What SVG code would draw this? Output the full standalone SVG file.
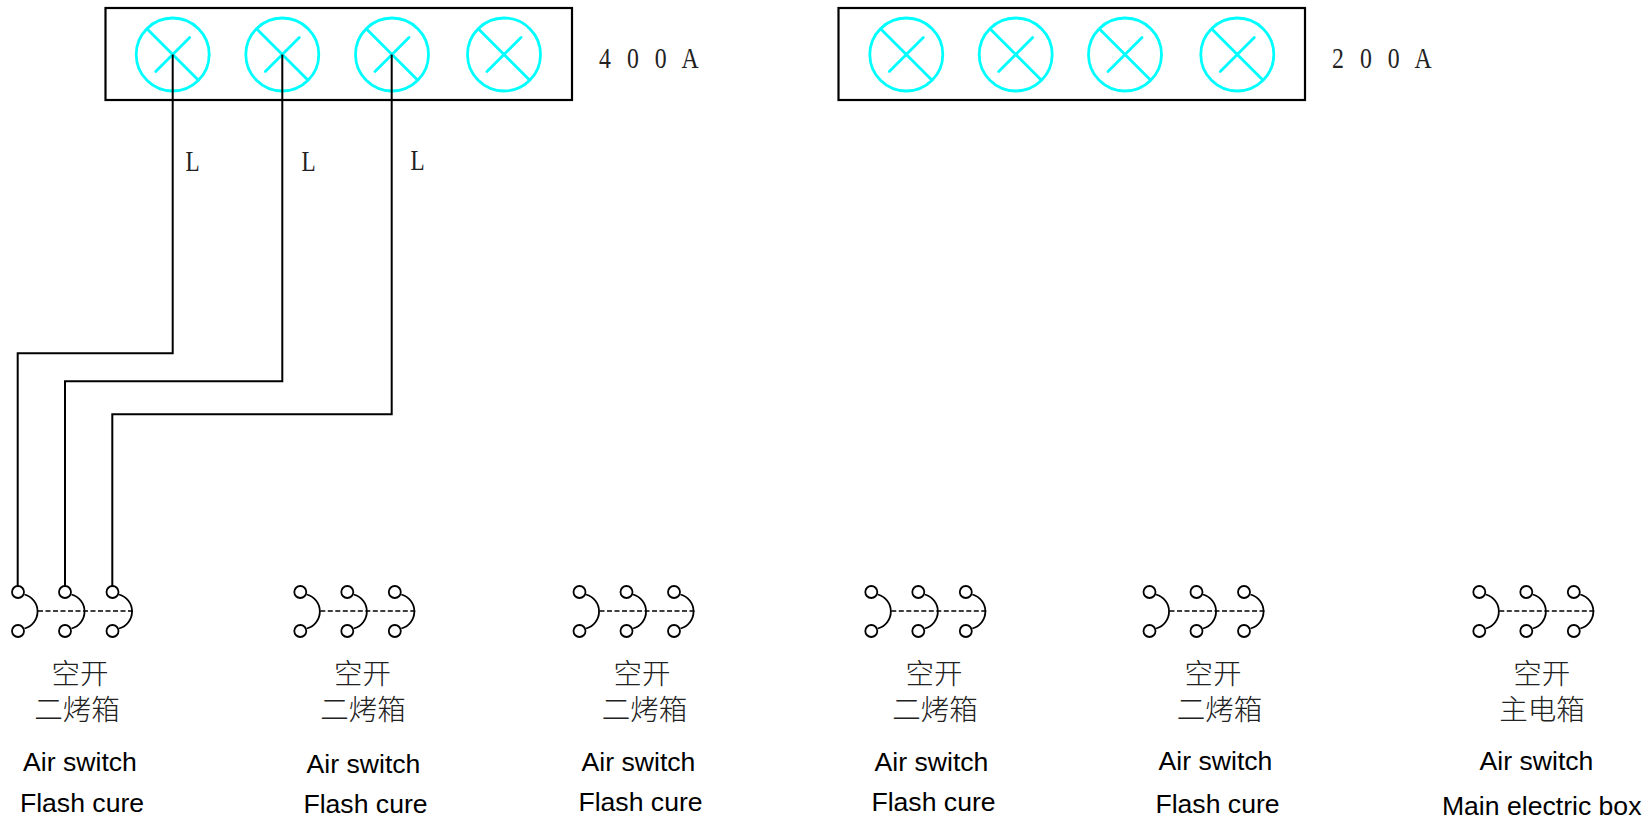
<svg xmlns="http://www.w3.org/2000/svg" xmlns:xlink="http://www.w3.org/1999/xlink" width="1652" height="819" viewBox="0 0 1652 819">
<style>
.box{fill:none;stroke:#000;stroke-width:2.200}
.lamp circle,.lamp path{fill:none;stroke:#00ffff;stroke-width:2.800;stroke-linecap:round}
.wire{fill:none;stroke:#000;stroke-width:2}
.pole circle,.pole path{fill:#fff;stroke:#000;stroke-width:1.800}
.pole path{fill:none}
.dash{fill:none;stroke:#000;stroke-width:1.500;stroke-dasharray:5 2.500}
.serif{font-family:"Liberation Serif",serif;font-size:29px;fill:#222}
.cjk{font-family:"Liberation Serif","Noto Sans CJK SC",sans-serif;font-size:28.500px;font-weight:300;fill:#222;text-anchor:middle}
.en{font-family:"Liberation Sans",Arial,sans-serif;font-size:26.600px;fill:#000;text-anchor:middle}
</style>
<defs>
<g id="lamp" class="lamp"><circle r="36.500"/><path d="M-25-25L25 25M17-17L-17 17"/></g>
<g id="pole" class="pole"><path d="M6.500 594.500A17.600 17.600 0 0 1 6.500 628.500"/><circle cx="0" cy="592" r="6"/><circle cx="0" cy="631" r="6"/></g>
<g id="switch"><use xlink:href="#pole"/><use xlink:href="#pole" x="47"/><use xlink:href="#pole" x="94.500"/><path class="dash" d="M20 611H115"/></g>
</defs>
<rect width="1652" height="819" fill="#fff"/>
<g id="panel-400a">
<rect class="box" x="105.500" y="8" width="466.500" height="92"/>
<use xlink:href="#lamp" x="172.700" y="54.500"/><use xlink:href="#lamp" x="282.300" y="54.500"/><use xlink:href="#lamp" x="392" y="54.500"/><use xlink:href="#lamp" x="504" y="54.500"/>
<text class="serif" transform="translate(599 68.300) scale(.82 1)" word-spacing="12.300">4 0 0 A</text>
</g>
<g id="panel-200a">
<rect class="box" x="838.500" y="8" width="466.500" height="92"/>
<use xlink:href="#lamp" x="906.300" y="54.500"/><use xlink:href="#lamp" x="1015.700" y="54.500"/><use xlink:href="#lamp" x="1125" y="54.500"/><use xlink:href="#lamp" x="1237.300" y="54.500"/>
<text class="serif" transform="translate(1332 68.300) scale(.82 1)" word-spacing="12.300">2 0 0 A</text>
</g>
<g id="connectors">
<path class="wire" d="M172.700 54.500V353.300H17.700V586"/>
<path class="wire" d="M282.300 54.500V381.300H65V586"/>
<path class="wire" d="M391.700 54.500V414.300H112.300V586"/>
</g>
<g id="wire-labels">
<text class="serif" transform="translate(185.500 170.700) scale(.8 1)">L</text>
<text class="serif" transform="translate(301.500 170.700) scale(.8 1)">L</text>
<text class="serif" transform="translate(410.500 170) scale(.8 1)">L</text>
</g>
<g id="switch-1"><use xlink:href="#switch" x="18"/>
<text class="cjk"><tspan x="80" y="684">空开</tspan><tspan x="77" y="720">二烤箱</tspan></text>
<text class="en" x="80" y="771">Air switch</text><text class="en" x="82" y="812">Flash cure</text></g>
<g id="switch-2"><use xlink:href="#switch" x="300.300"/>
<text class="cjk"><tspan x="362.500" y="684">空开</tspan><tspan x="363" y="720">二烤箱</tspan></text>
<text class="en" x="363.500" y="773">Air switch</text><text class="en" x="365.500" y="813">Flash cure</text></g>
<g id="switch-3"><use xlink:href="#switch" x="579.500"/>
<text class="cjk"><tspan x="642" y="684">空开</tspan><tspan x="644.500" y="720">二烤箱</tspan></text>
<text class="en" x="638.500" y="771">Air switch</text><text class="en" x="640.500" y="811">Flash cure</text></g>
<g id="switch-4"><use xlink:href="#switch" x="871.300"/>
<text class="cjk"><tspan x="934" y="684">空开</tspan><tspan x="935" y="720">二烤箱</tspan></text>
<text class="en" x="931.500" y="771">Air switch</text><text class="en" x="933.500" y="811">Flash cure</text></g>
<g id="switch-5"><use xlink:href="#switch" x="1149.500"/>
<text class="cjk"><tspan x="1213" y="684">空开</tspan><tspan x="1219.500" y="720">二烤箱</tspan></text>
<text class="en" x="1215.500" y="770">Air switch</text><text class="en" x="1217.500" y="813">Flash cure</text></g>
<g id="switch-6"><use xlink:href="#switch" x="1479.300"/>
<text class="cjk"><tspan x="1541.700" y="684">空开</tspan><tspan x="1542" y="720">主电箱</tspan></text>
<text class="en" x="1536.500" y="769.500">Air switch</text><text class="en" x="1541.700" y="815">Main electric box</text></g>
</svg>
